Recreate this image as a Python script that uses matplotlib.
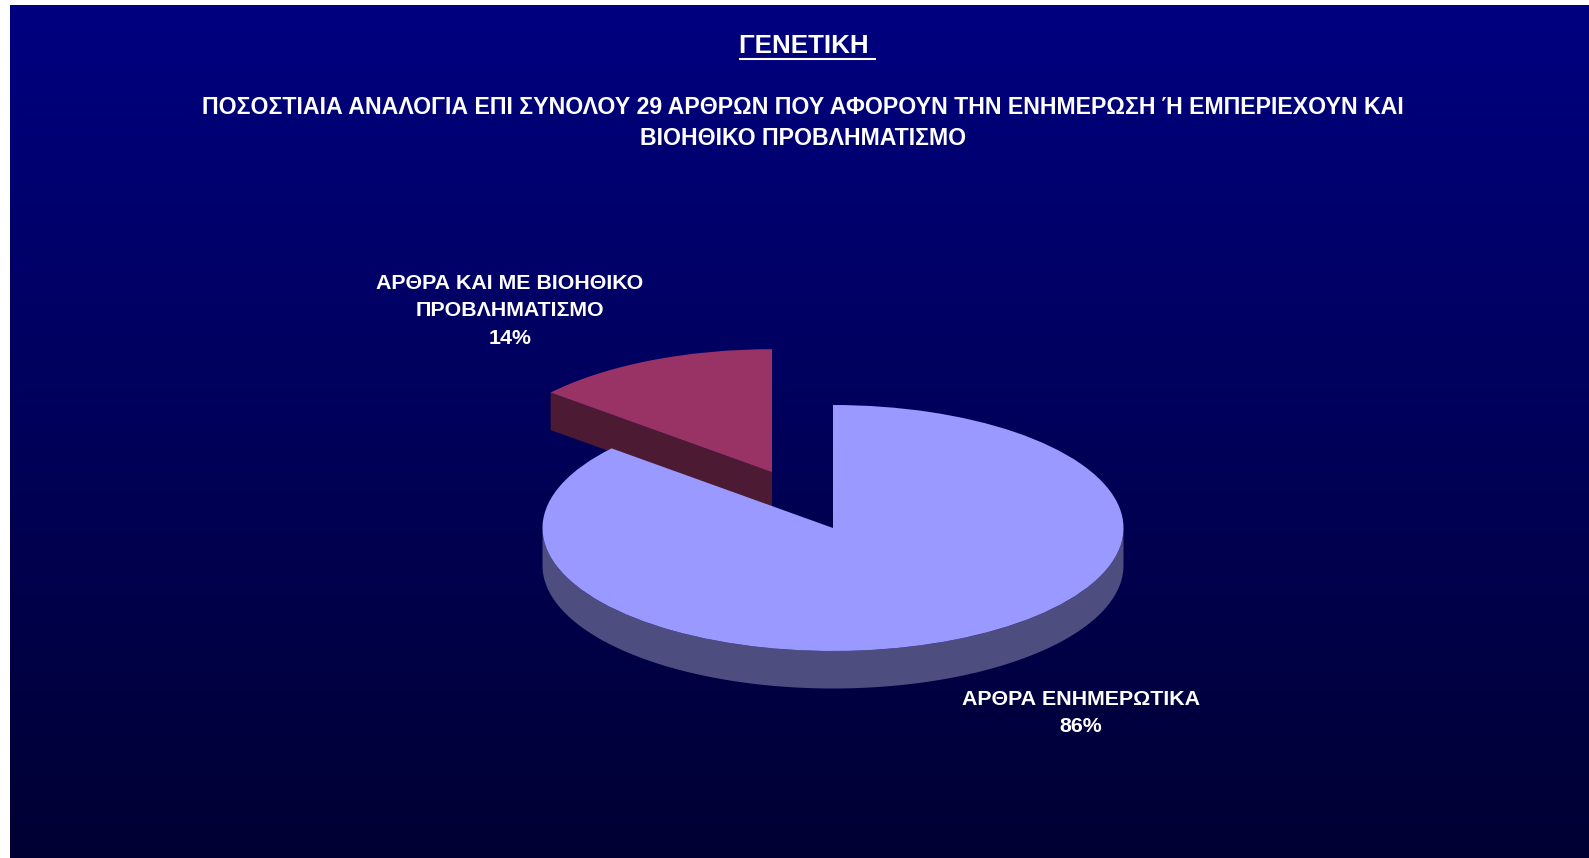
import matplotlib
matplotlib.use("Agg")
import matplotlib.pyplot as plt
import numpy as np

plt.rcParams['font.family'] = ['Liberation Sans', 'DejaVu Sans']

title = "ΓΕΝΕΤΙΚΗ "
subtitle = ("ΠΟΣΟΣΤΙΑΙΑ ΑΝΑΛΟΓΙΑ ΕΠΙ ΣΥΝΟΛΟΥ 29 ΑΡΘΡΩΝ ΠΟΥ ΑΦΟΡΟΥΝ ΤΗΝ ΕΝΗΜΕΡΩΣΗ Ή ΕΜΠΕΡΙΕΧΟΥΝ ΚΑΙ\n"
            "ΒΙΟΗΘΙΚΟ ΠΡΟΒΛΗΜΑΤΙΣΜΟ")
labels = ["ΑΡΘΡΑ ΕΝΗΜΕΡΩΤΙΚΑ\n86%", "ΑΡΘΡΑ ΚΑΙ ΜΕ ΒΙΟΗΘΙΚΟ\nΠΡΟΒΛΗΜΑΤΙΣΜΟ\n14%"]
values = [25, 4]       # articles out of 29
explode = [0, 0.5]
top_colors = ["#9999FF", "#993366"]
side_colors = ["#4D4D80", "#4D1A33"]

W, H = 1589, 858
cx, cy = 833, 528      # centre of the big slice, pixels
rx, ry = 290.5, 123    # squashed pie radii, pixels
depth = 37.5 / ry

fig = plt.figure(figsize=(W / 100, H / 100), dpi=100, facecolor="white")

# background gradient, leaves the white strip left and top
bg = fig.add_axes([10 / W, 0, (W - 10) / W, (H - 5) / H])
grad = np.linspace(0, 1, 256).reshape(-1, 1)
cmap = matplotlib.colors.LinearSegmentedColormap.from_list("bg", ["#000080", "#000033"])
bg.imshow(grad, aspect="auto", cmap=cmap)
bg.axis("off")

ax = fig.add_axes([0, 0, 1, 1])
ax.patch.set_alpha(0)
wedges, _ = ax.pie(values, explode=explode, colors=top_colors, startangle=90,
                   counterclock=False, wedgeprops=dict(linewidth=0))
ax.set_aspect("auto")
ax.set_xlim(-cx / rx, (W - cx) / rx)
ax.set_ylim(-(H - cy) / ry, cy / ry)

# big slice: front rim
big, small = wedges
t = np.radians(np.linspace(180, 360, 200))
xs = np.cos(t)
ys = np.sin(t)
ax.fill(np.r_[xs, xs[::-1]], np.r_[ys, ys[::-1] - depth], color=side_colors[0], lw=0, zorder=1)

# small slice: cut face from the tip to the rim, the only side that shows
tip = np.array(small.center)
a = np.radians(max(small.theta1, small.theta2) % 360)
edge = tip + np.array([np.cos(a), np.sin(a)])
ax.fill([tip[0], edge[0], edge[0], tip[0]],
        [tip[1], edge[1], edge[1] - depth, tip[1] - depth],
        color=side_colors[1], lw=0, zorder=1)
small.set_zorder(2)
big.set_zorder(3)


def put(x, y, s, size, spacing):
    return fig.text(x / W, 1 - y / H, s, color="white", fontweight="bold", fontsize=size,
                    ha="center", va="center", linespacing=spacing)


put(807, 46, title, 18.7, 1.2)
put(803, 123, subtitle, 16.7, 1.42)
put(1081, 713, labels[0], 15.4, 1.55)
put(510, 311, labels[1], 15.4, 1.55)

# underline of the title, the trailing space counts
fig.add_artist(plt.Line2D([740 / W, 875 / W], [1 - 58.5 / H, 1 - 58.5 / H], color="white", lw=1.5))

fig.savefig("out.png", dpi=100, facecolor=fig.get_facecolor())
